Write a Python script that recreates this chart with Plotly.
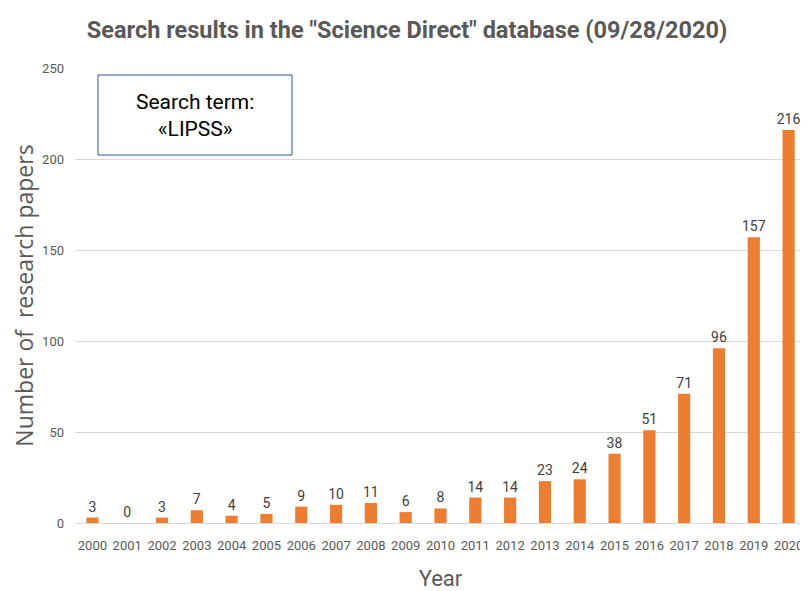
import plotly.graph_objects as go

years = [str(y) for y in range(2000, 2021)]
papers = [3, 0, 3, 7, 4, 5, 9, 10, 11, 6, 8, 14, 14, 23, 24, 38, 51, 71, 96, 157, 216]
y_ticks = [0, 50, 100, 150, 200, 250]

TFONT = "Roboto, sans-serif"

# page has an 8px body margin, so figure is 800x583 placed at (8, 8)
W, H = 800, 583
L, R, T, B = 67, 2, 60, 68
PW, PH = W - L - R, H - T - B

def px(x):  # screen x -> paper
    return (x - 8 - L) / PW

def py(y):  # screen y -> paper
    return (H - B - (y - 8)) / PH

fig = go.Figure(go.Bar(
    x=years, y=papers, width=0.35,
    marker=dict(color="#ED7D31", line=dict(width=0)),
    text=[str(v) for v in papers], textposition="outside",
    textfont=dict(size=14, color="#404040", family=TFONT),
    constraintext="none", cliponaxis=False,
))

fig.update_layout(
    width=W, height=H,
    margin=dict(l=L, r=R, t=T, b=B),
    paper_bgcolor="white", plot_bgcolor="white",
    title=dict(text="<b>Search results in the \"Science Direct\" database (09/28/2020)</b>",
               x=(407 - 8) / W, xanchor="center", y=1 - (30 - 8) / H, yanchor="middle",
               font=dict(size=23.5, color="#595959", family=TFONT)),
    showlegend=False,
)
fig.update_xaxes(
    type="category", showgrid=False, showline=True, linecolor="#d9d9d9",
    ticks="", ticklabelstandoff=10, tickfont=dict(size=13, color="#595959", family=TFONT),
    title=dict(text="Year", font=dict(size=22, color="#595959", family=TFONT), standoff=20),
)
fig.update_yaxes(
    range=[0, 250], tickvals=y_ticks, showgrid=True, gridcolor="#d9d9d9",
    zeroline=False, ticks="", ticklabelstandoff=10,
    tickfont=dict(size=13, color="#595959", family=TFONT),
    title=dict(text="Number of  research papers",
               font=dict(size=23, color="#595959", family="Open Sans, sans-serif"), standoff=12),
)

fig.add_shape(type="rect", xref="paper", yref="paper",
              x0=px(98), x1=px(292), y0=py(155), y1=py(75),
              line=dict(color="#2F5597", width=1), fillcolor="white")
fig.add_annotation(xref="paper", yref="paper", x=px(195), y=py(116),
                   xanchor="center", yanchor="middle",
                   text="Search term:<br>«LIPSS»", showarrow=False,
                   font=dict(size=21, color="#000000", family=TFONT))

fig.write_html("out.html")
